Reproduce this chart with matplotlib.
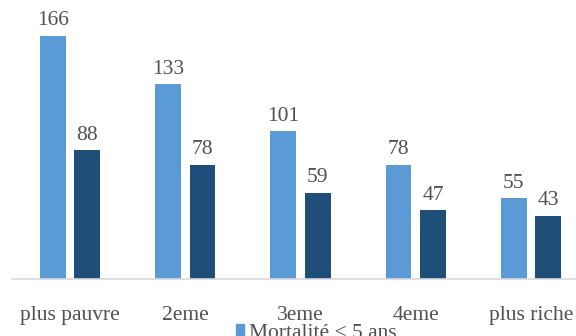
import numpy as np
import matplotlib
matplotlib.use("Agg")
import matplotlib.pyplot as plt
from matplotlib.patches import Patch

# quintiles de richesse
quintiles = ["plus pauvre", "2eme", "3eme", "4eme", "plus riche"]
mort_moins5 = [166, 133, 101, 78, 55]
mort_infantile = [88, 78, 59, 47, 43]

light = "#5B9BD5"
dark = "#1F4E79"
txt = "#505050"
fs = 15.5

plt.rcParams["font.family"] = ["Liberation Serif", "DejaVu Serif"]

fig = plt.figure(figsize=(5.76, 3.36), dpi=100)
# axes run slightly past the right edge, like a cropped export
ax = fig.add_axes([12.4 / 576, 57 / 336, 576.25 / 576, 279 / 336])

x = np.arange(len(quintiles))
w = 0.224
off = 0.15
b1 = ax.bar(x - off, mort_moins5, w, color=light)
b2 = ax.bar(x + off, mort_infantile, w, color=dark)

for bars, vals in ((b1, mort_moins5), (b2, mort_infantile)):
    for r, v in zip(bars, vals):
        ax.annotate(str(v), (r.get_x() + r.get_width() / 2, v),
                    xytext=(0, 4), textcoords="offset points",
                    ha="center", va="bottom", fontsize=fs, color=txt)

ax.set_xlim(-0.5, 4.5)
ax.set_ylim(0, 190.5)
ax.set_xticks(x)
ax.set_xticklabels(quintiles, fontsize=fs, color=txt)
ax.tick_params(axis="x", length=0, pad=19.5)
ax.set_yticks([])
for s in ("top", "right", "left"):
    ax.spines[s].set_visible(False)
ax.spines["bottom"].set_color("#D9D9D9")
ax.spines["bottom"].set_linewidth(1.2)

handles = [Patch(color=light), Patch(color=dark)]
fig.legend(handles, ["Mortalité < 5 ans", "Mortalité infantile"],
           loc="upper left", bbox_to_anchor=(225 / 576, 23 / 336),
           ncol=1, frameon=False, fontsize=fs, labelcolor=txt,
           handlelength=0.4, handleheight=0.45, handletextpad=0.2,
           borderpad=0, labelspacing=0.3)

fig.savefig("out.png", dpi=100)
